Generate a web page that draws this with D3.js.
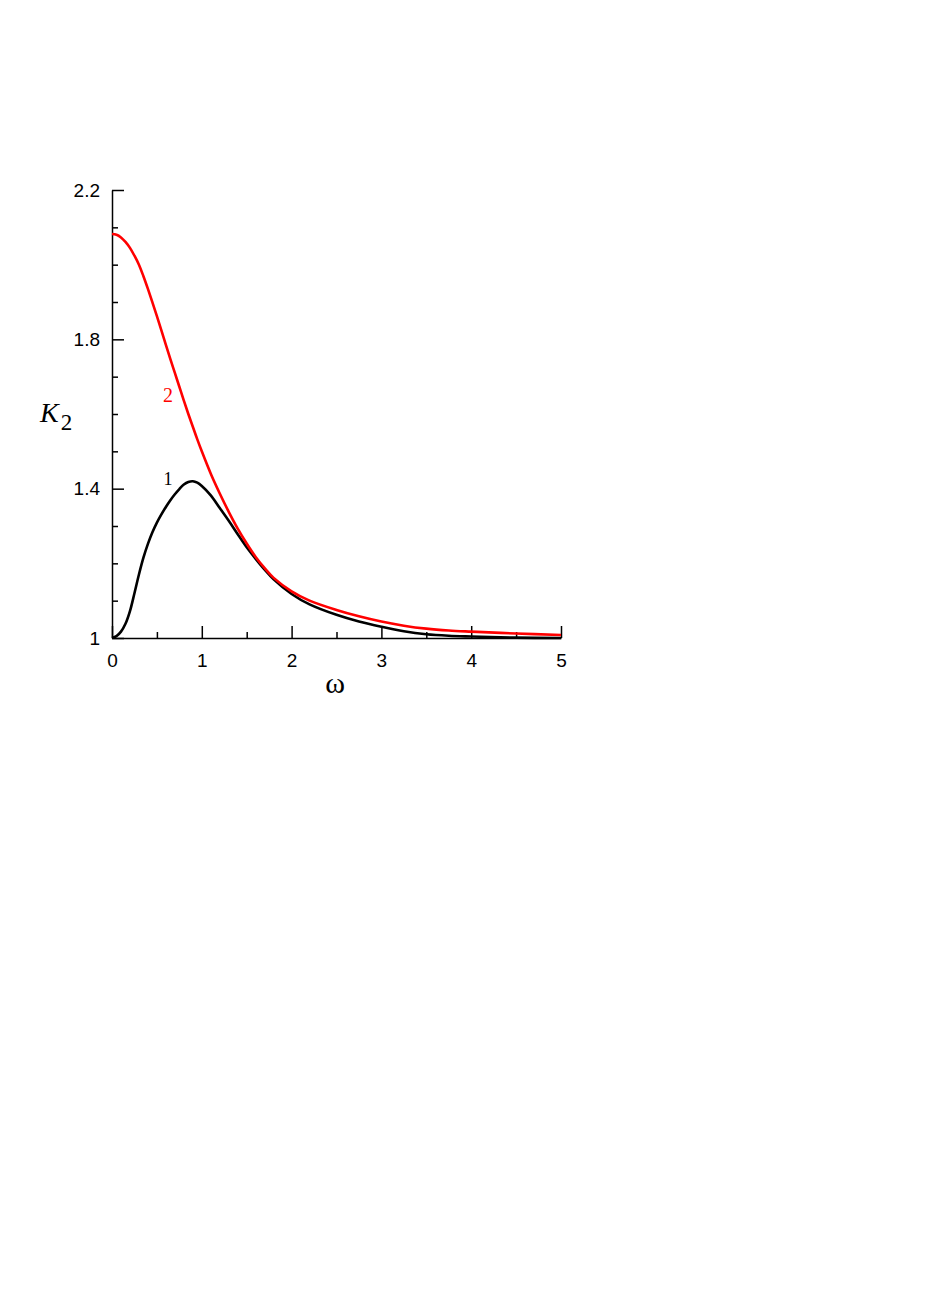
<!DOCTYPE html>
<html><head><meta charset="utf-8">
<script src="https://cdn.jsdelivr.net/npm/d3@7"></script>
<style>body{margin:0;background:#fff}</style>
</head><body>
<svg id="c" width="926" height="1311"></svg>
<script>
const omega = [0, 0.05, 0.1, 0.15, 0.2, 0.25, 0.3, 0.35, 0.4, 0.45, 0.5, 0.55, 0.6, 0.65, 0.7, 0.75, 0.8, 0.85, 0.9, 0.95, 1.0, 1.1, 1.2, 1.3, 1.4, 1.5, 1.6, 1.7, 1.8, 2.0, 2.2, 2.5, 2.75, 3.0, 3.25, 3.5, 3.75, 4.0, 4.5, 5.0];
const k2Curve1 = [1.0, 1.005, 1.017, 1.038, 1.072, 1.120, 1.170, 1.215, 1.252, 1.283, 1.309, 1.331, 1.351, 1.369, 1.385, 1.399, 1.411, 1.418, 1.420, 1.416, 1.407, 1.382, 1.348, 1.314, 1.278, 1.243, 1.212, 1.183, 1.157, 1.118, 1.09, 1.062, 1.044, 1.03, 1.018, 1.01, 1.006, 1.004, 1.001, 1.0];
const k2Curve2 = [2.082, 2.080, 2.073, 2.061, 2.045, 2.024, 2.0, 1.969, 1.935, 1.899, 1.862, 1.824, 1.785, 1.747, 1.71, 1.673, 1.636, 1.600, 1.566, 1.532, 1.50, 1.44, 1.387, 1.338, 1.293, 1.253, 1.217, 1.187, 1.161, 1.125, 1.10, 1.075, 1.058, 1.044, 1.033, 1.025, 1.020, 1.017, 1.012, 1.008];
const xMajor = [0, 1, 2, 3, 4, 5];
const xMinor = [0.5, 1.5, 2.5, 3.5, 4.5];
const yMajor = [1, 1.4, 1.8, 2.2];
const yMinor = [1.1, 1.2, 1.3, 1.5, 1.6, 1.7, 1.9, 2.0, 2.1];
const yTickLabels = ["1", "1.4", "1.8", "2.2"];

const svg = d3.select("#c");
const x = d3.scaleLinear().domain([0, 5]).range([112, 561]);
const y = d3.scaleLinear().domain([1, 2.2]).range([638, 190]);

svg.append("g").attr("transform", `translate(0,${y(1)})`)
  .call(d3.axisBottom(x).tickValues(xMinor).tickSize(-6).tickFormat(""))
  .call(g => g.select(".domain").remove());
svg.append("g").attr("transform", `translate(${x(0)},0)`)
  .call(d3.axisLeft(y).tickValues(yMinor).tickSize(-6).tickFormat(""))
  .call(g => g.select(".domain").remove());

svg.append("g").attr("transform", `translate(0,${y(1)})`)
  .call(d3.axisBottom(x).tickValues(xMajor).tickSize(-12).tickSizeOuter(0).tickPadding(16).tickFormat(d3.format("d")));
svg.append("g").attr("transform", `translate(${x(0)},0)`)
  .call(d3.axisLeft(y).tickValues(yMajor).tickSize(-12).tickSizeOuter(0).tickPadding(12).tickFormat((d, i) => yTickLabels[i]));

svg.selectAll("g").attr("font-size", null).attr("font-family", null);
svg.selectAll(".tick line, .domain").attr("stroke", "#000").attr("stroke-width", 1.5);
svg.selectAll(".tick text")
  .style("font-family", "'Liberation Sans', Arial, sans-serif")
  .style("font-size", "19px").attr("fill", "#000");

const line = d3.line().x((d, i) => x(omega[i])).y(d => y(d)).curve(d3.curveCatmullRom.alpha(0.5));
svg.append("path").datum(k2Curve1).attr("d", line).attr("fill", "none").attr("stroke", "#000").attr("stroke-width", 2.6);
svg.append("path").datum(k2Curve2).attr("d", line).attr("fill", "none").attr("stroke", "#ff0000").attr("stroke-width", 2.6);

const serif = "'Liberation Serif', 'Times New Roman', serif";
svg.append("text").attr("x", 168).attr("y", 402).attr("text-anchor", "middle")
  .style("font-family", serif).style("font-size", "20px").attr("fill", "#ff0000").text("2");
svg.append("text").attr("x", 168).attr("y", 485).attr("text-anchor", "middle")
  .style("font-family", serif).style("font-size", "18px").attr("fill", "#000").text("1");

const yt = svg.append("text").attr("x", 40).attr("y", 422)
  .style("font-family", serif).attr("fill", "#000");
yt.append("tspan").style("font-style", "italic").style("font-size", "28px").text("K");
yt.append("tspan").style("font-size", "23px").attr("dy", 8).attr("dx", 2).text("2");

svg.append("text").attr("x", 335).attr("y", 693).attr("text-anchor", "middle")
  .style("font-family", serif).style("font-size", "30px").attr("fill", "#000").text("ω");
</script>
</body></html>
